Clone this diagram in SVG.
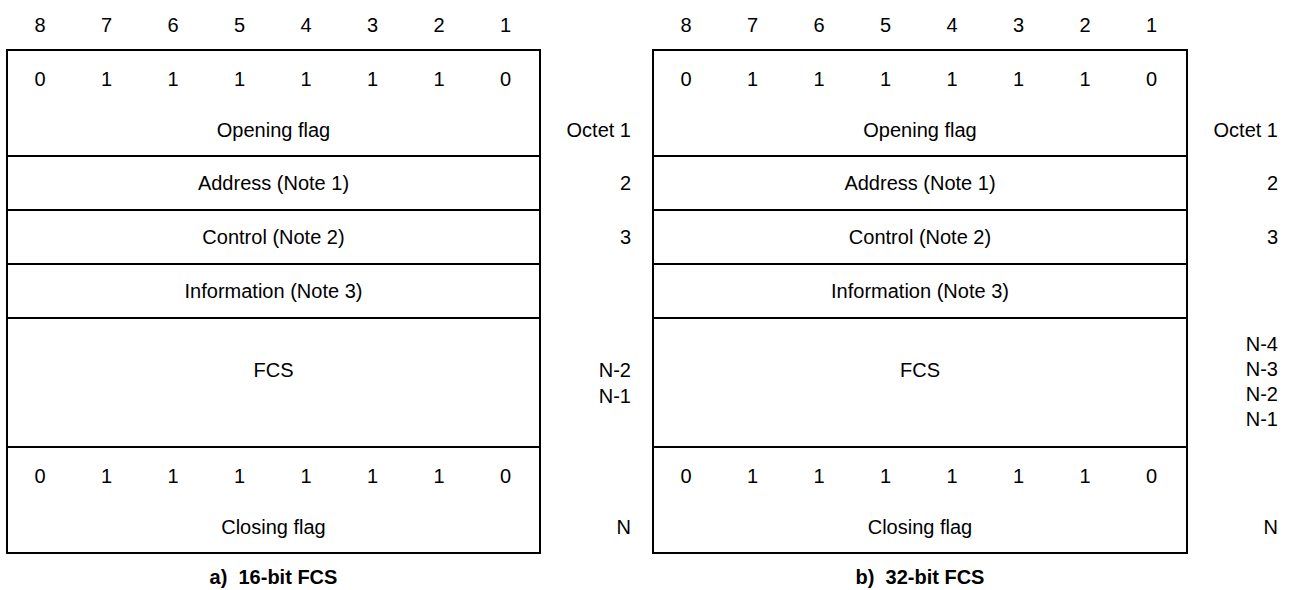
<svg xmlns="http://www.w3.org/2000/svg" width="1289" height="590" viewBox="0 0 1289 590">
<style>
text{font-family:"Liberation Sans",Arial,sans-serif;font-size:20px;fill:#000}
.c{text-anchor:middle}
.r{text-anchor:end}
.cap{font-weight:bold;font-size:20px}
.box{fill:#fff;stroke:#000;stroke-width:2}
</style>
<rect width="1289" height="590" fill="#fff"/>
<g id="frame-a">
<g id="a-bits">
<text x="40" y="32" class="c">8</text><text x="106.5" y="32" class="c">7</text><text x="173" y="32" class="c">6</text><text x="239.5" y="32" class="c">5</text><text x="306" y="32" class="c">4</text><text x="372.5" y="32" class="c">3</text><text x="439" y="32" class="c">2</text><text x="505.5" y="32" class="c">1</text>
</g>
<g id="a-opening">
<rect class="box" x="7" y="50" width="533" height="106"/>
<text x="40" y="86" class="c">0</text><text x="106.5" y="86" class="c">1</text><text x="173" y="86" class="c">1</text><text x="239.5" y="86" class="c">1</text><text x="306" y="86" class="c">1</text><text x="372.5" y="86" class="c">1</text><text x="439" y="86" class="c">1</text><text x="505.5" y="86" class="c">0</text>
<text x="273.5" y="137" class="c">Opening flag</text>
<text x="631" y="137" class="r">Octet 1</text>
</g>
<g id="a-address">
<rect class="box" x="7" y="156" width="533" height="54"/>
<text x="273.5" y="190" class="c">Address (Note 1)</text>
<text x="631" y="190" class="r">2</text>
</g>
<g id="a-control">
<rect class="box" x="7" y="210" width="533" height="54"/>
<text x="273.5" y="244" class="c">Control (Note 2)</text>
<text x="631" y="244" class="r">3</text>
</g>
<g id="a-information">
<rect class="box" x="7" y="264" width="533" height="54"/>
<text x="273.5" y="298" class="c">Information (Note 3)</text>
</g>
<g id="a-fcs">
<rect class="box" x="7" y="318" width="533" height="129"/>
<text x="273.5" y="377" class="c">FCS</text>
<text x="631" y="377" class="r">N-2</text>
<text x="631" y="403" class="r">N-1</text>
</g>
<g id="a-closing">
<rect class="box" x="7" y="447" width="533" height="106"/>
<text x="40" y="483" class="c">0</text><text x="106.5" y="483" class="c">1</text><text x="173" y="483" class="c">1</text><text x="239.5" y="483" class="c">1</text><text x="306" y="483" class="c">1</text><text x="372.5" y="483" class="c">1</text><text x="439" y="483" class="c">1</text><text x="505.5" y="483" class="c">0</text>
<text x="273.5" y="534" class="c">Closing flag</text>
<text x="631" y="534" class="r">N</text>
</g>
<text id="a-caption" x="273.5" y="584" class="c cap" xml:space="preserve">a)  16-bit FCS</text>
</g>
<g id="frame-b">
<g id="b-bits">
<text x="686" y="32" class="c">8</text><text x="752.5" y="32" class="c">7</text><text x="819" y="32" class="c">6</text><text x="885.5" y="32" class="c">5</text><text x="952" y="32" class="c">4</text><text x="1018.5" y="32" class="c">3</text><text x="1085" y="32" class="c">2</text><text x="1151.5" y="32" class="c">1</text>
</g>
<g id="b-opening">
<rect class="box" x="653" y="50" width="534" height="106"/>
<text x="686" y="86" class="c">0</text><text x="752.5" y="86" class="c">1</text><text x="819" y="86" class="c">1</text><text x="885.5" y="86" class="c">1</text><text x="952" y="86" class="c">1</text><text x="1018.5" y="86" class="c">1</text><text x="1085" y="86" class="c">1</text><text x="1151.5" y="86" class="c">0</text>
<text x="920" y="137" class="c">Opening flag</text>
<text x="1278" y="137" class="r">Octet 1</text>
</g>
<g id="b-address">
<rect class="box" x="653" y="156" width="534" height="54"/>
<text x="920" y="190" class="c">Address (Note 1)</text>
<text x="1278" y="190" class="r">2</text>
</g>
<g id="b-control">
<rect class="box" x="653" y="210" width="534" height="54"/>
<text x="920" y="244" class="c">Control (Note 2)</text>
<text x="1278" y="244" class="r">3</text>
</g>
<g id="b-information">
<rect class="box" x="653" y="264" width="534" height="54"/>
<text x="920" y="298" class="c">Information (Note 3)</text>
</g>
<g id="b-fcs">
<rect class="box" x="653" y="318" width="534" height="129"/>
<text x="920" y="377" class="c">FCS</text>
<text x="1278" y="351" class="r">N-4</text>
<text x="1278" y="376" class="r">N-3</text>
<text x="1278" y="401" class="r">N-2</text>
<text x="1278" y="426" class="r">N-1</text>
</g>
<g id="b-closing">
<rect class="box" x="653" y="447" width="534" height="106"/>
<text x="686" y="483" class="c">0</text><text x="752.5" y="483" class="c">1</text><text x="819" y="483" class="c">1</text><text x="885.5" y="483" class="c">1</text><text x="952" y="483" class="c">1</text><text x="1018.5" y="483" class="c">1</text><text x="1085" y="483" class="c">1</text><text x="1151.5" y="483" class="c">0</text>
<text x="920" y="534" class="c">Closing flag</text>
<text x="1278" y="534" class="r">N</text>
</g>
<text id="b-caption" x="920" y="584" class="c cap" xml:space="preserve">b)  32-bit FCS</text>
</g>
</svg>
